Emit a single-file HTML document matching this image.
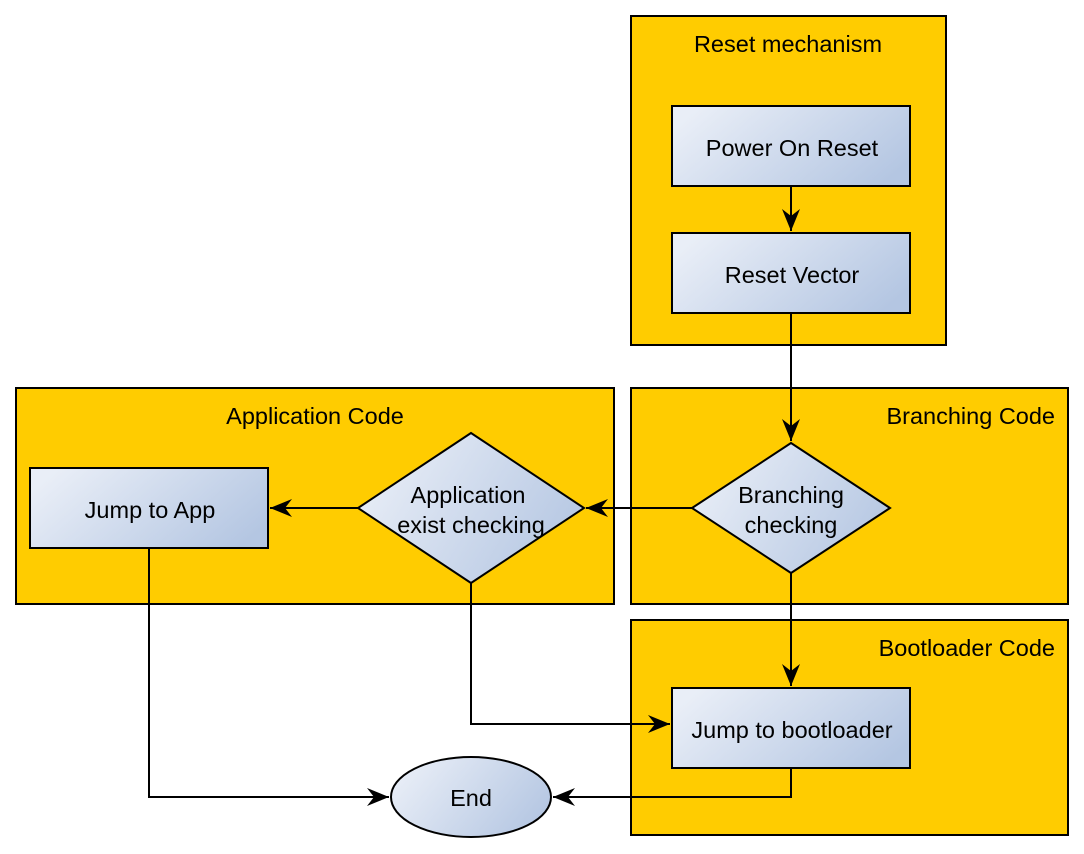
<!DOCTYPE html>
<html><head><meta charset="utf-8"><style>html,body{margin:0;padding:0;background:#fff}svg{display:block}text{font-family:"Liberation Sans",sans-serif;font-size:23.5px;fill:#000}</style></head><body>
<svg width="1084" height="854" viewBox="0 0 1084 854" xmlns="http://www.w3.org/2000/svg">
<defs>
<linearGradient id="g" x1="0" y1="0.3" x2="1" y2="0.7"><stop offset="0" stop-color="#e9eef7"/><stop offset="1" stop-color="#b4c6e2"/></linearGradient>
<marker id="a" viewBox="0 0 22 18" refX="22" refY="9" markerWidth="22" markerHeight="18" markerUnits="userSpaceOnUse" orient="auto"><path d="M0,0 L22,9 L0,18 L7,9 Z" fill="#000"/></marker>
</defs>
<g fill="#ffcc00" stroke="#000" stroke-width="2">
<rect x="631" y="16" width="315" height="329"/>
<rect x="16" y="388" width="598" height="216"/>
<rect x="631" y="388" width="437" height="216"/>
<rect x="631" y="620" width="437" height="215"/>
</g>
<text x="788" y="52" text-anchor="middle">Reset mechanism</text>
<text x="315" y="424" text-anchor="middle">Application Code</text>
<text x="1055" y="424" text-anchor="end">Branching Code</text>
<text x="1055" y="656" text-anchor="end">Bootloader Code</text>
<g fill="none" stroke="#000" stroke-width="2">
<path d="M791,186 V231" marker-end="url(#a)"/>
<path d="M791,313 V441" marker-end="url(#a)"/>
<path d="M692,508 H586" marker-end="url(#a)"/>
<path d="M358,508 H270" marker-end="url(#a)"/>
<path d="M791,573 V686" marker-end="url(#a)"/>
<path d="M471,583 V724 H670" marker-end="url(#a)"/>
<path d="M149,548 V797 H389" marker-end="url(#a)"/>
<path d="M791,768 V797 H553" marker-end="url(#a)"/>
</g>
<g fill="url(#g)" stroke="#000" stroke-width="2">
<rect x="672" y="106" width="238" height="80"/>
<rect x="672" y="233" width="238" height="80"/>
<rect x="30" y="468" width="238" height="80"/>
<rect x="672" y="688" width="238" height="80"/>
<path d="M471,433 L584,508 L471,583 L358,508 Z"/>
<path d="M791,443 L890,508 L791,573 L692,508 Z"/>
<ellipse cx="471" cy="797" rx="80" ry="40"/>
</g>
<g text-anchor="middle">
<text x="792" y="156">Power On Reset</text>
<text x="792" y="283">Reset Vector</text>
<text x="150" y="518">Jump to App</text>
<text x="792" y="738">Jump to bootloader</text>
<text x="468" y="503">Application</text>
<text x="471" y="533">exist checking</text>
<text x="791" y="503">Branching</text>
<text x="791" y="533">checking</text>
<text x="471" y="806">End</text>
</g>
</svg>
</body></html>
